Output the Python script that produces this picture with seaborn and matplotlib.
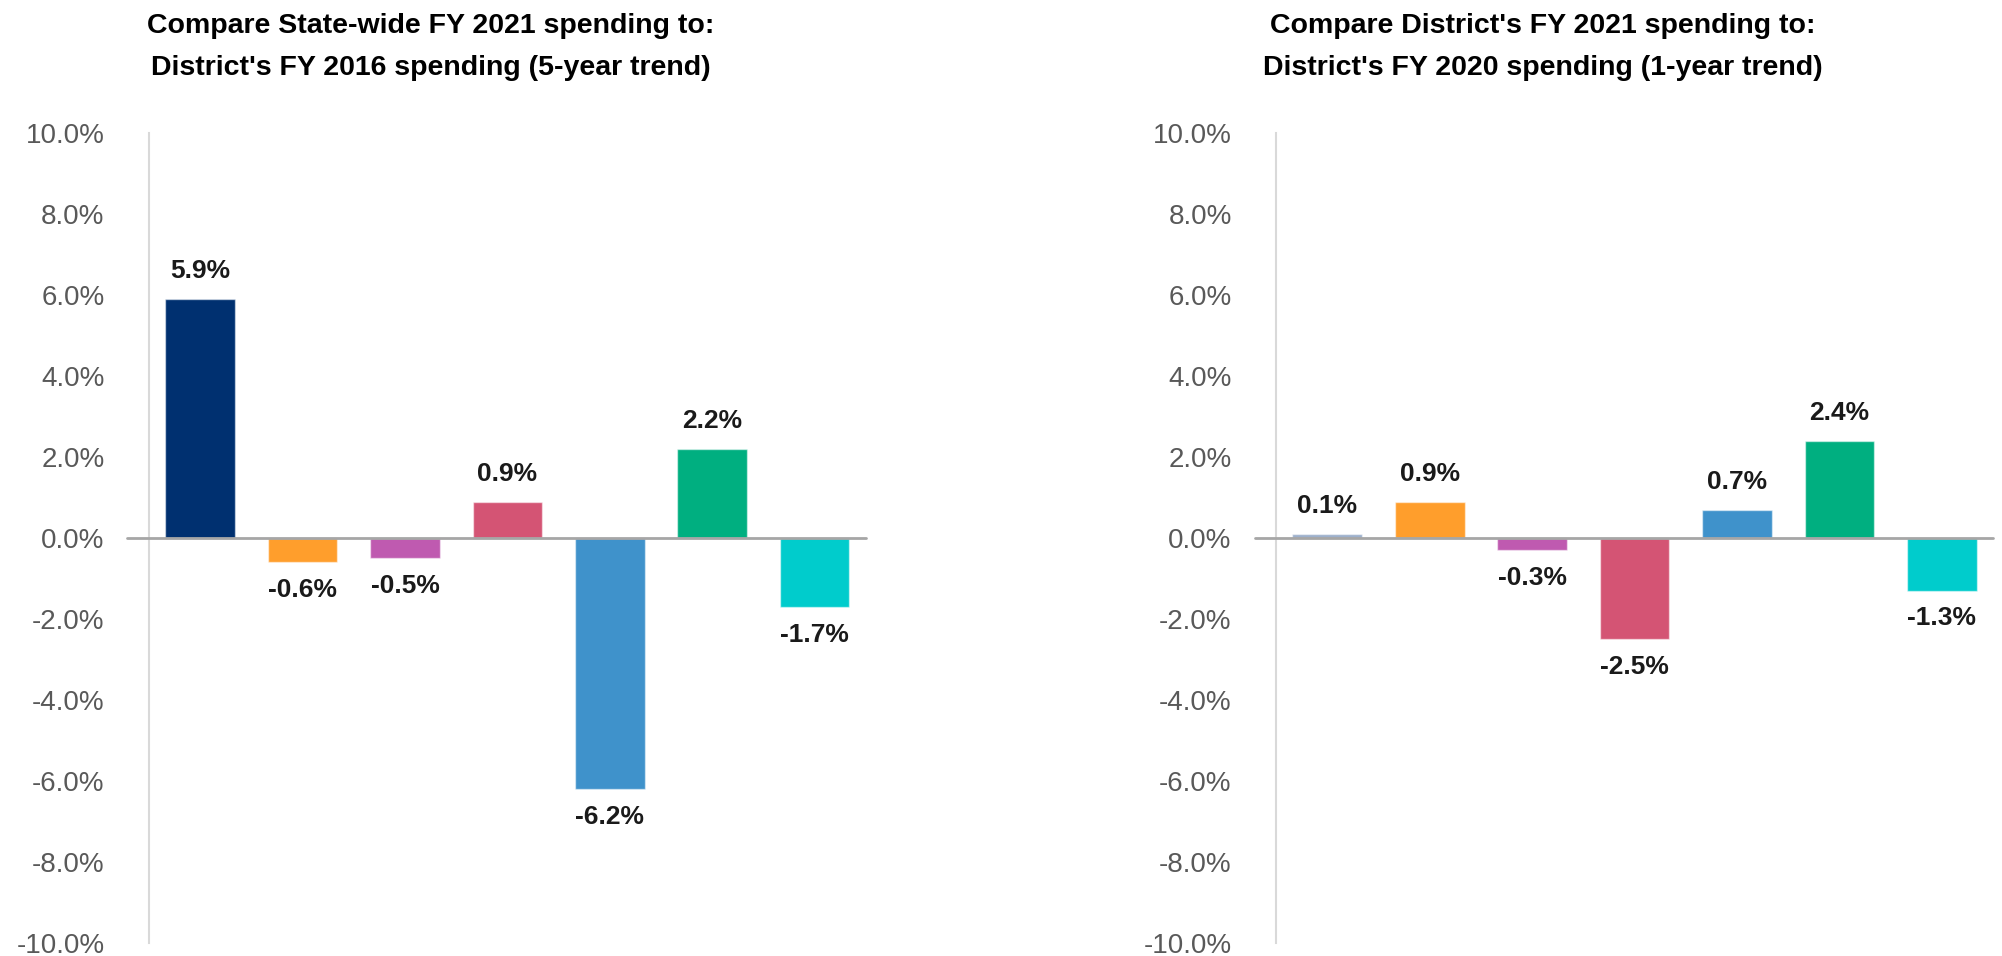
import matplotlib
matplotlib.use("Agg")
import matplotlib.pyplot as plt
import seaborn as sns

# values (percent)
categories = ["C1", "C2", "C3", "C4", "C5", "C6", "C7"]
trend_5yr = [5.9, -0.6, -0.5, 0.9, -6.2, 2.2, -1.7]
trend_1yr = [0.1, 0.9, -0.3, -2.5, 0.7, 2.4, -1.3]
colors_5yr = ["#003070", "#FF9E2C", "#BF5AB0", "#D45474", "#3F92CB", "#00AF80", "#00CCCC"]
colors_1yr = ["#9DB0CC", "#FF9E2C", "#BF5AB0", "#D45474", "#3F92CB", "#00AF80", "#00CCCC"]
titles = [["Compare State-wide FY 2021 spending to:", "District's FY 2016 spending (5-year trend)"],
          ["Compare District's FY 2021 spending to:", "District's FY 2020 spending (1-year trend)"]]
yticks = [-10, -8, -6, -4, -2, 0, 2, 4, 6, 8, 10]

sns.set_style("white")
plt.rcParams["font.family"] = ["Liberation Sans", "DejaVu Sans"]

fig = plt.figure(figsize=(20.02, 9.56), dpi=100)
ax1 = fig.add_axes([0.0744, 0.0136, 0.3581, 0.8473])
ax2 = fig.add_axes([0.6374, 0.0136, 0.3581, 0.8473])

for ax, vals, cols, title, tx in [(ax1, trend_5yr, colors_5yr, titles[0], 0.2153),
                                  (ax2, trend_1yr, colors_1yr, titles[1], 0.7705)]:
    sns.barplot(x=categories, y=vals, hue=categories, palette=cols, legend=False,
                saturation=1, width=0.68, ax=ax, linewidth=1, edgecolor="#ffffff80")
    ax.set_xlim(-0.5, 6.5)
    ax.set_ylim(-10, 10)
    ax.set_yticks(yticks)
    ax.set_yticklabels([f"{t:.1f}%" for t in yticks])
    ax.tick_params(axis="y", length=0, pad=32, labelsize=20, labelcolor="#595959")
    ax.set_xticks([])
    for s in ["top", "right", "bottom"]:
        ax.spines[s].set_visible(False)
    ax.spines["left"].set_color("#d9d9d9")
    ax.spines["left"].set_linewidth(1.5)
    ax.axhline(0, xmin=-0.03, xmax=1, color="#a6a6a6", lw=2, clip_on=False, zorder=3)
    for i, v in enumerate(vals):
        off = 20 if v >= 0 else -20
        ax.annotate(f"{v:.1f}%", (i, v), xytext=(0, off), textcoords="offset points",
                    ha="center", va="center", fontsize=19, fontweight="bold", color="#1a1a1a")
    fig.text(tx, 0.973, title[0], ha="center", va="center", fontsize=20.5,
             fontweight="bold", color="black")
    fig.text(tx, 0.929, title[1], ha="center", va="center", fontsize=20.5,
             fontweight="bold", color="black")

fig.savefig("out.png", dpi=100)
